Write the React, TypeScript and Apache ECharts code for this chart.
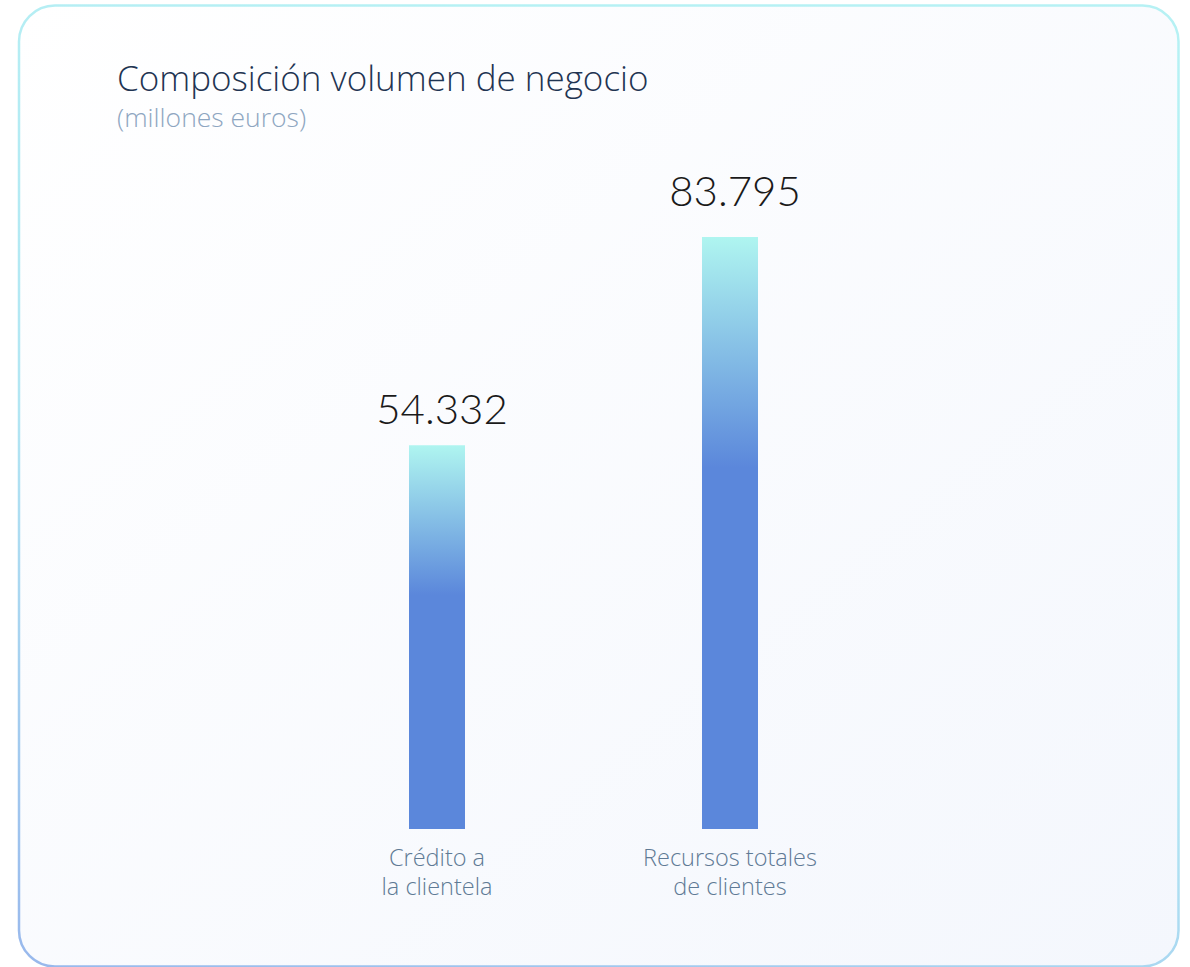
import React, { useEffect, useRef } from "react";
import * as echarts from "echarts";

const categories = ["Crédito a\nla clientela", "Recursos totales\nde clientes"];
const values = [54332, 83795];
const labelDistances = [16, 26];
const titleText = "Composición volumen de negocio";
const subtitleText = "(millones euros)";

function fmt(v: number): string {
  return v.toLocaleString("de-DE");
}

export default function App() {
  const ref = useRef<HTMLDivElement>(null);
  useEffect(() => {
    if (!ref.current) return;
    const chart = echarts.init(ref.current, null, { renderer: "svg" });
    chart.setOption({
      animation: false,
      backgroundColor: "#ffffff",
      graphic: [
        {
          type: "rect",
          z: -10,
          shape: { x: 19, y: 5.5, width: 1159.5, height: 961, r: 36 },
          style: {
            fill: new echarts.graphic.LinearGradient(0, 0, 1, 1, [
              { offset: 0, color: "#ffffff" },
              { offset: 1, color: "#f4f7fd" },
            ]),
            stroke: new echarts.graphic.LinearGradient(0.4, 0, 0, 1, [
              { offset: 0, color: "#b6f1f4" },
              { offset: 0.5, color: "#b2e6f3" },
              { offset: 1, color: "#98b8ec" },
            ]),
            lineWidth: 2.5,
          },
        },
      ],
      title: {
        text: titleText,
        subtext: subtitleText,
        left: 112,
        top: 55,
        itemGap: 8,
        textStyle: {
          fontFamily: "Open Sans",
          fontSize: 35,
          fontWeight: 300,
          color: "#1f3452",
        },
        subtextStyle: {
          fontFamily: "Open Sans",
          fontSize: 26.5,
          fontWeight: 300,
          color: "#8ea6c1",
        },
      },
      grid: { left: 290.5, width: 586, top: 122.5, height: 706.5 },
      xAxis: {
        type: "category",
        data: categories,
        axisLine: { show: false },
        axisTick: { show: false },
        axisLabel: {
          margin: 13,
          fontFamily: "Open Sans",
          fontSize: 23.5,
          lineHeight: 29.5,
          color: "#5f7a95",
          fontWeight: 300,
        },
      },
      yAxis: {
        type: "value",
        min: 0,
        max: 100000,
        show: false,
        splitLine: { show: false },
      },
      series: [
        {
          type: "bar",
          data: values.map((v, i) => ({
            value: v,
            label: { distance: labelDistances[i] },
          })),
          barWidth: 56,
          itemStyle: {
            color: new echarts.graphic.LinearGradient(0, 0, 0, 1, [
              { offset: 0, color: "#aff5f0" },
              { offset: 0.39, color: "#5b87db" },
              { offset: 1, color: "#5b87db" },
            ]),
          },
          label: {
            show: true,
            position: "top",
            offset: [5, 0],
            fontFamily: "Lato",
            fontSize: 42,
            fontWeight: 300,
            color: "#1a1a1a",
            formatter: (p: any) => fmt(p.value),
          },
        },
      ],
    });
    return () => chart.dispose();
  }, []);
  return (
    <div
      ref={ref}
      style={{ position: "fixed", left: 0, top: 0, width: 1190, height: 967 }}
    />
  );
}
